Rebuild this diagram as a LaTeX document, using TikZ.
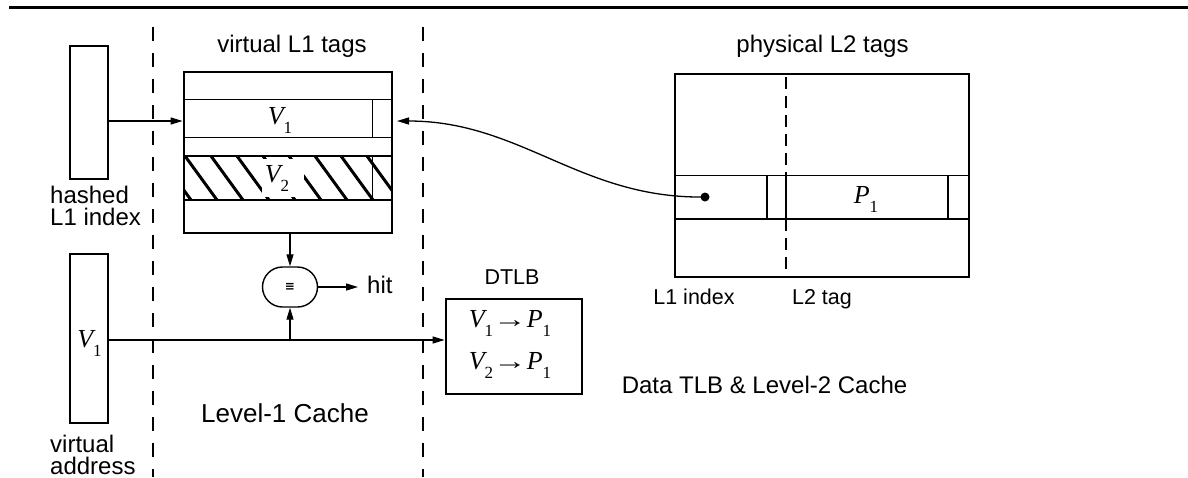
\documentclass[tikz,border=0pt]{standalone}
\usepackage{fontspec}
\usepackage{graphicx}
\setmainfont{Liberation Sans}
\newfontfamily\serifface{Liberation Serif}
\newfontfamily\symface{DejaVu Sans}
\usetikzlibrary{arrows.meta}

\newcommand\fs[1]{\fontsize{#1}{#1}\selectfont}
% italic letter with a lowered digit, as in V_1 or P_1
\newcommand\tagvar[2]{{\fs{26}\serifface\itshape #1}\raisebox{-9pt}{\fs{17}\serifface #2}}
\newcommand\maparrow{{\fs{24}\serifface\scalebox{1.4}[1]{→}}}

\begin{document}
\begin{tikzpicture}[x=1pt,y=-1pt,
  lbl/.style={inner sep=0pt, font=\fs{24}},
  boxthick/.style={draw, rectangle, line width=2.8pt, inner sep=0pt},
  thin/.style={line width=1.4pt},
  arr/.style={line width=1.3pt, -{Triangle[length=12pt,width=7pt]}},
  dashline/.style={line width=1.5pt, dash pattern=on 14pt off 12pt},
  var/.style={inner sep=0pt, anchor=base}]
\useasboundingbox (0,0) rectangle (1188,477);

% rule across the top
\draw[line width=3pt] (9,7) -- (1188,7);

% boundaries of the level-1 cache region
\draw[dashline] (153,27) -- (153,477);
\draw[dashline] (423,27) -- (423,477);

% registers on the left
\node[boxthick, minimum width=38pt, minimum height=133pt] (hashbox) at (89,112.5) {};
\node[boxthick, minimum width=38pt, minimum height=169pt] (vaddr) at (89,338.5) {};
\node[var] (va1) at (89.5,347) {\tagvar{V}{1}};
\node[lbl, anchor=base west] (hash1) at (50,203) {hashed};
\node[lbl, anchor=base west] (hash2) at (50,225) {L1 index};
\node[lbl, anchor=base west] (virt1) at (50,452) {virtual};
\node[lbl, anchor=base west] (virt2) at (50,474) {address};

% virtual L1 tag array
\node[lbl, anchor=base] (tagstitle) at (292,52) {virtual L1 tags};
\node[boxthick, minimum width=208pt, minimum height=161pt] (tags) at (288,152.5) {};
\begin{scope}
  \clip (184,156) rectangle (392,200);
  \foreach \x in {133,159,...,395}
    \draw[line width=3pt] (\x,156) -- ++(32,44);
\end{scope}
\foreach \y in {99.3,137.7,156,200}
  \draw[thin] (tags.west |- 0,\y) -- (tags.east |- 0,\y);
\draw[thin] (372.7,99.3) -- (372.7,137.7);
\draw[thin] (372.7,156) -- (372.7,200);
\node[var] (v1tag) at (280,124) {\tagvar{V}{1}};
\node[fill=white, inner sep=0pt, minimum width=42pt, minimum height=38pt] (v2bg) at (283,178) {};
\node[var] (v2tag) at (277,182) {\tagvar{V}{2}};

% comparator
\node[draw, line width=1.4pt, rounded corners=20pt, minimum width=55pt, minimum height=40pt, inner sep=0pt] (eq) at (290,287) {\fs{12}\symface\bfseries ≡};
\node[lbl, anchor=base west, inner xsep=9pt] (hit) at (358,293) {hit};
\node[inner sep=0pt, font=\fs{26}, anchor=base] (l1cache) at (285,422) {Level-1 Cache};

% DTLB
\node[inner sep=0pt, font=\fs{21.5}, anchor=base] (dtlbtitle) at (512,284) {DTLB};
\node[boxthick, minimum width=136pt, minimum height=95pt] (dtlb) at (514,346.5) {};
\node[var] (map1) at (510,327) {\tagvar{V}{1}\maparrow\tagvar{P}{1}};
\node[var] (map2) at (510,369) {\tagvar{V}{2}\maparrow\tagvar{P}{1}};

% physical L2 tag array
\node[lbl, anchor=base] (l2title) at (822.5,52) {physical L2 tags};
\node[boxthick, minimum width=294pt, minimum height=203pt] (l2) at (822,175.5) {};
\foreach \y in {175.7,219}
  \draw[thin] (l2.west |- 0,\y) -- (l2.east |- 0,\y);
\draw[thin] (767,175.7) -- (767,219);
\draw[thin] (948,175.7) -- (948,219);
\draw[line width=1.4pt, dash pattern=on 12pt off 7pt] (786,77) -- (786,175.7);
\draw[line width=1.4pt, dash pattern=on 12pt off 7pt] (786,219) -- (786,275);
\draw[thin] (786,175.7) -- (786,219);
\node[var] (p1) at (866,203) {\tagvar{P}{1}};
\node[circle, fill, inner sep=0pt, minimum size=9pt] (dot) at (705,197) {};
\node[inner sep=0pt, font=\fs{21.5}, anchor=base] (l1idx) at (694,304) {L1 index};
\node[inner sep=0pt, font=\fs{21.5}, anchor=base] (l2tag) at (822,304) {L2 tag};
\node[inner sep=0pt, font=\fs{24}, anchor=base] (l2cache) at (764.5,393) {Data TLB \& Level-2 Cache};

% connectors
\coordinate (row1) at (0,121);
\coordinate (vline) at (0,340);
\coordinate (v1end) at (397,121);
\draw[arr] (hashbox.east |- row1) -- (tags.west |- row1);
\draw[arr] (eq |- tags.south) -- (eq.north);
\draw[arr] (eq.east) -- (eq.east -| hit.west);
\draw[arr] (vaddr.east |- vline) -- (dtlb.west |- vline);
\draw[arr] (eq |- vline) -- (eq.south);
\draw[arr] (dot.center) .. controls (581,199) and (521,121) .. (v1end);
\end{tikzpicture}
\end{document}
